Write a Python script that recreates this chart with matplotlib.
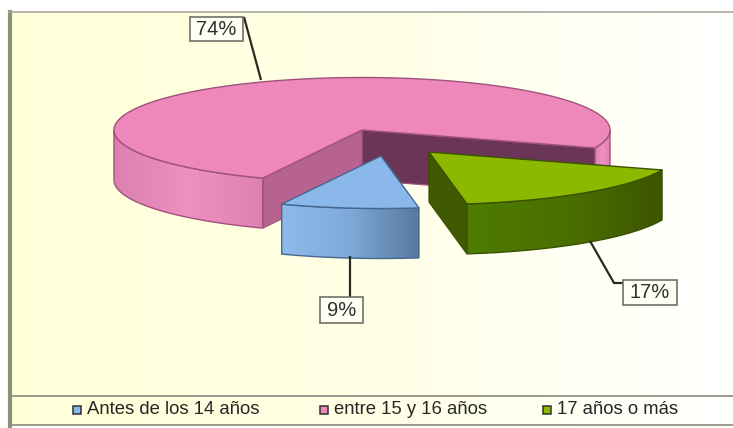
#!/usr/bin/env python3

# Exploded 3D pie, ages (drawn by hand since matplotlib has no 3D pie)

import numpy as np
import matplotlib
matplotlib.use("Agg")
import matplotlib.pyplot as plt
from matplotlib.colors import LinearSegmentedColormap
from matplotlib.patches import Polygon, Rectangle

categories = ["Antes de los 14 años", "entre 15 y 16 años", "17 años o más"]
shares = [9, 74, 17]
labels = ["9%", "74%", "17%"]

plt.rcParams['font.family'] = ['Liberation Sans', 'DejaVu Sans']

# ellipse of the pie, in pixels
cx, cy = 362, 130
rx, ry = 248, 52.5
depth = 50
start = 278.8

top_col = ["#8AB8EA", "#EE88BA", "#8DB800"]
edge_col = ["#46688F", "#A0527E", "#3A5200"]
wall_col = ["#5F86B0", "#B8628F", "#3F5A00"]
side_cmaps = [["#8DBBEA", "#7FA9D8", "#55789F"],
              ["#DC80B2", "#EE90C0", "#DE80B2"],
              ["#4F7C00", "#4A7000", "#3D5500"]]
offsets = [(19, 26), (0, 0), (67, 22)]

fig = plt.figure(figsize=(7.33, 4.28), dpi=100)
ax = fig.add_axes([0, 0, 1, 1])
ax.axis('off')

# background
bg = LinearSegmentedColormap.from_list("bg", ["#FFFFD8", "#FFFFE6", "#FFFFFF"])
grad = np.linspace(0, 1, 256).reshape(1, -1)
ax.imshow(grad, cmap=bg, extent=[10, 733, 396, 12], aspect='auto', zorder=0)
ax.plot([9.5, 9.5], [428, 12], color="#8F8F78", lw=3, zorder=1)
ax.plot([9, 733], [12, 12], color="#A8A8A0", lw=1.2, zorder=1)


def pt(theta, ox, oy, dz=0):
    t = np.radians(theta)
    return cx + ox + rx * np.cos(t), cy + oy - ry * np.sin(t) + dz


def draw_slice(i, t1, t2, z):
    # t1 -> t2 counter clockwise
    ox, oy = offsets[i]
    ec = edge_col[i]
    apex = (cx + ox, cy + oy)

    # radial walls
    for theta, sign in ((t1, 1), (t2, -1)):
        t = np.radians(theta)
        if sign * -np.cos(t) < 0:
            x, y = pt(theta, ox, oy)
            col = wall_col[i]
            if i == 1 and abs(((theta + 180) % 360) - 180) < 30:
                col = "#6B3558"
            ax.fill([apex[0], x, x, apex[0]],
                    [apex[1], y, y + depth, apex[1] + depth],
                    facecolor=col, edgecolor=ec, lw=0.9, zorder=z)

    # outer side, only the part at the front
    cmap = LinearSegmentedColormap.from_list("s%d" % i, side_cmaps[i])
    th = np.linspace(t1, t2, int(abs(t2 - t1) * 3) + 2)
    th = th[np.sin(np.radians(th)) <= 0.001]
    xs = np.array([pt(a, ox, oy)[0] for a in th])
    if i == 1:
        # two separate runs, left and right of the pie
        spans = [(xs < cx + ox), (xs > cx + ox)]
    else:
        spans = [np.ones(len(th), dtype=bool)]
    for mask in spans:
        run = th[mask]
        upper = [pt(a, ox, oy) for a in run]
        lower = [pt(a, ox, oy, depth) for a in run]
        poly = Polygon(upper + lower[::-1], closed=True, transform=ax.transData,
                       facecolor='none', edgecolor=ec, lw=1.0, zorder=z + 0.2)
        ax.add_patch(poly)
        lo, hi = min(p[0] for p in upper), max(p[0] for p in upper)
        top, bot = min(p[1] for p in upper), max(p[1] for p in lower)
        im = ax.imshow(grad, cmap=cmap, extent=[lo, hi, bot, top], aspect='auto',
                       zorder=z + 0.1)
        im.set_clip_path(poly)

    # top face
    th = np.linspace(t1, t2, 300)
    xs, ys = zip(*[pt(a, ox, oy) for a in th])
    ax.fill([apex[0], *xs], [apex[1], *ys], facecolor=top_col[i], edgecolor=ec,
            lw=1.0, joinstyle='round', zorder=z + 0.3)


# walk clockwise through the shares from the start angle
ends = start - np.cumsum(np.array(shares) / sum(shares) * 360)
begins = np.r_[start, ends[:-1]]
for i, z in zip((1, 0, 2), (2, 3, 4)):
    draw_slice(i, ends[i], begins[i], z)

# leader lines
line_kw = dict(color="#2A2A20", lw=1.6, zorder=6, solid_capstyle='butt')
ax.plot([350, 350], [256, 297], **line_kw)
ax.plot([244, 261], [17, 80], **line_kw)
ax.plot([590, 614, 623], [241, 283, 283], **line_kw)

# data labels
boxes = [(320, 297, 43, 26), (190, 17, 53, 24), (623, 280, 54, 25)]
for lab, (x, y, w, h) in zip(labels, boxes):
    ax.add_patch(Rectangle((x, y), w, h, facecolor="#FFFFF4", edgecolor="#707068",
                           lw=1.2, zorder=7))
    ax.text(x + w / 2, y + h / 2 + 0.5, lab, ha='center', va='center', fontsize=14.5,
            color="#303030", zorder=8)

# legend strip
ax.imshow(grad, cmap=bg, extent=[10, 733, 425, 396], aspect='auto', zorder=0)
ax.plot([10, 733], [396, 396], color="#8A8A7C", lw=1.2, zorder=1)
ax.plot([10, 733], [425, 425], color="#8A8A7C", lw=1.2, zorder=1)
ax.plot([10.5, 10.5], [396, 425], color="#8A8A7C", lw=1.2, zorder=1)
legend_x = [87, 334, 557]
for x, name, col in zip(legend_x, categories, top_col):
    ax.add_patch(Rectangle((x - 14, 405.5), 8, 8, facecolor=col, edgecolor="#303030",
                           lw=1.1, zorder=3))
    ax.text(x, 409.5, name, ha='left', va='center', fontsize=13.3,
            color="#262626", zorder=3)

ax.set_xlim(0, 733)
ax.set_ylim(428, 0)
fig.savefig("out.png", dpi=100)
